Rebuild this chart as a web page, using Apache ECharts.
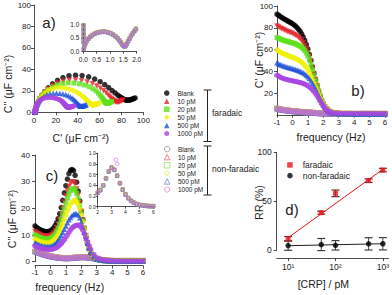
<!DOCTYPE html>
<html>
<head>
<meta charset="utf-8">
<script src="https://cdn.jsdelivr.net/npm/echarts@6/dist/echarts.min.js"></script>
<style>
html,body{margin:0;padding:0;background:#ffffff;}
#chart{width:392px;height:295px;}
</style>
</head>
<body>
<div id="chart"></div>
<script>
// ================= DATA =================
const concentrations = ['Blank', '10 pM', '20 pM', '50 pM', '500 pM', '1000 pM'];

// log10 of frequency (Hz) for panels b and c
const logFreq = [-1.0,-0.9,-0.8,-0.7,-0.6,-0.5,-0.4,-0.3,-0.2,-0.1,0.0,0.1,0.2,0.3,0.4,0.5,0.6,0.7,0.8,0.9,1.0,1.1,1.2,1.3,1.4,1.5,1.6,1.7,1.8,1.9,2.0,2.1,2.2,2.3,2.4,2.5,
  2.6,2.8,3.0,3.2,3.4,3.6,3.8,4.0,4.2,4.4,4.6,4.8,5.0,5.2,5.4,5.6,5.8,6.0];

// C' (uF cm-2), faradaic
const realBlank = [92.5,91.5,90.5,89.5,88.6,87.8,87.0,86.2,85.4,84.6,83.7,82.7,81.6,80.2,78.6,76.6,74.3,71.5,68.3,64.7,60.5,55.5,50.0,44.0,38.0,32.0,26.5,21.5,17.0,13.0,9.8,7.3,5.4,4.0,3.0,2.3,
  1.8,1.3,1.1,1.0,0.9,0.9,0.9,0.8,0.8,0.8,0.8,0.8,0.8,0.8,0.8,0.8,0.8,0.8];
const real10 = [81.5,80.6,79.8,79.0,78.3,77.6,77.0,76.4,75.8,75.2,74.6,73.9,73.1,72.1,71.0,69.6,68.0,66.0,63.6,60.8,57.5,53.5,48.8,43.5,38.0,32.3,26.8,21.7,17.2,13.2,10.0,7.4,5.5,4.1,3.1,2.4,
  1.8,1.3,1.1,1.0,0.9,0.9,0.9,0.8,0.8,0.8,0.8,0.8,0.8,0.8,0.8,0.8,0.8,0.8];
const real20 = [71.0,70.3,69.7,69.1,68.6,68.1,67.7,67.3,66.9,66.5,66.1,65.6,65.1,64.5,63.8,63.0,62.0,60.7,59.0,56.8,54.0,50.5,46.3,41.6,36.5,31.3,26.2,21.4,17.0,13.1,9.9,7.3,5.4,4.0,3.0,2.3,
  1.8,1.3,1.1,1.0,0.9,0.9,0.9,0.8,0.8,0.8,0.8,0.8,0.8,0.8,0.8,0.8,0.8,0.8];
const real50 = [59.5,58.6,57.8,57.0,56.3,55.6,55.0,54.4,53.9,53.4,52.9,52.3,51.7,51.0,50.2,49.3,48.2,46.9,45.3,43.4,41.2,38.6,35.7,32.5,29.1,25.6,22.1,18.6,15.2,12.1,9.4,7.1,5.3,3.9,2.9,2.2,
  1.8,1.3,1.1,1.0,0.9,0.9,0.9,0.8,0.8,0.8,0.8,0.8,0.8,0.8,0.8,0.8,0.8,0.8];
const real500 = [47.8,47.0,46.3,45.7,45.1,44.6,44.1,43.7,43.3,42.9,42.5,42.1,41.7,41.2,40.7,40.1,39.4,38.6,37.6,36.4,35.0,33.3,31.3,29.0,26.4,23.6,20.6,17.5,14.5,11.7,9.1,6.9,5.1,3.8,2.8,2.1,
  1.8,1.3,1.1,1.0,0.9,0.9,0.9,0.8,0.8,0.8,0.8,0.8,0.8,0.8,0.8,0.8,0.8,0.8];
const real1000 = [36.5,35.5,34.7,34.0,33.4,32.9,32.5,32.1,31.8,31.5,31.2,30.9,30.6,30.3,30.0,29.6,29.2,28.7,28.1,27.4,26.6,25.6,24.4,23.0,21.3,19.4,17.3,15.0,12.6,10.3,8.2,6.3,4.8,3.6,2.7,2.1,
  1.7,1.4,1.3,1.2,1.2,1.2,1.2,1.2,1.1,1.1,1.1,1.1,1.1,1.1,1.1,1.1,1.1,1.1];
// C' non-faradaic (all concentrations overlap)
const realNonFaradaic = [5.6,5.2,4.9,4.6,4.4,4.2,4.0,3.8,3.6,3.5,3.3,3.2,3.0,2.9,2.8,2.6,2.5,2.4,2.3,2.2,2.1,2.0,1.9,1.8,1.7,1.6,1.5,1.4,1.3,1.25,1.2,1.15,1.1,1.05,1.0,1.0,
  1.0,0.95,0.9,0.9,0.9,0.9,0.85,0.85,0.85,0.85,0.85,0.85,0.85,0.85,0.85,0.85,0.85,0.85];

// C'' (uF cm-2), faradaic
const imagBlank = [13.4,12.9,12.5,12.1,11.8,11.6,11.4,11.3,11.3,11.4,11.6,12.0,12.6,13.5,14.6,16.1,18.0,20.3,23.0,25.8,28.5,31.0,33.0,34.2,34.6,34.1,32.4,29.8,26.5,22.8,19.0,15.8,12.4,9.3,6.8,4.9,
  3.4,1.8,1.0,0.6,0.45,0.4,0.35,0.3,0.3,0.3,0.3,0.3,0.3,0.3,0.3,0.3,0.3,0.3];
const imag10 = [11.3,10.9,10.5,10.2,9.9,9.7,9.6,9.5,9.5,9.6,9.8,10.2,10.8,11.7,12.8,14.2,15.9,17.9,20.1,22.4,24.6,26.6,28.2,29.4,30.0,29.9,29.0,27.3,24.9,22.0,18.8,15.6,12.5,9.6,7.1,5.1,
  3.6,1.9,1.05,0.65,0.45,0.4,0.35,0.3,0.3,0.3,0.3,0.3,0.3,0.3,0.3,0.3,0.3,0.3];
const imag20 = [10.1,9.7,9.4,9.1,8.9,8.7,8.6,8.5,8.5,8.6,8.8,9.1,9.6,10.3,11.3,12.5,14.0,15.8,17.8,19.9,21.9,23.8,25.4,26.6,27.3,27.5,26.9,25.6,23.6,21.1,18.3,15.3,12.4,9.7,7.3,5.3,
  3.7,1.9,1.05,0.65,0.45,0.4,0.35,0.3,0.3,0.3,0.3,0.3,0.3,0.3,0.3,0.3,0.3,0.3];
const imag50 = [8.4,8.1,7.8,7.6,7.4,7.2,7.1,7.0,7.0,7.1,7.3,7.6,8.0,8.6,9.4,10.3,11.4,12.7,14.2,15.8,17.5,19.0,20.4,21.5,22.3,22.8,23.0,22.6,21.5,19.8,17.5,14.9,12.2,9.6,7.3,5.4,
  3.8,2.0,1.1,0.7,0.5,0.4,0.35,0.3,0.3,0.3,0.3,0.3,0.3,0.3,0.3,0.3,0.3,0.3];
const imag500 = [7.1,6.8,6.5,6.3,6.1,5.9,5.8,5.7,5.7,5.7,5.8,6.0,6.3,6.7,7.3,8.0,8.9,9.9,11.0,12.2,13.4,14.6,15.7,16.6,17.3,17.8,18.1,18.0,17.5,16.5,15.0,13.1,11.0,8.9,6.9,5.2,
  3.8,2.1,1.15,0.7,0.5,0.4,0.35,0.3,0.3,0.3,0.3,0.3,0.3,0.3,0.3,0.3,0.3,0.3];
const imag1000 = [5.9,5.6,5.4,5.2,5.0,4.9,4.8,4.7,4.6,4.6,4.6,4.7,4.8,5.0,5.3,5.7,6.2,6.8,7.5,8.3,9.2,10.1,11.0,11.9,12.6,13.1,13.5,13.7,13.8,13.5,12.8,11.8,10.5,9.0,7.5,6.0,
  4.7,2.8,1.6,1.0,0.7,0.55,0.45,0.4,0.35,0.35,0.3,0.3,0.3,0.3,0.3,0.3,0.3,0.3];
// C'' non-faradaic
const imagNonFaradaic = [3.8,3.6,3.4,3.2,3.0,2.8,2.6,2.45,2.3,2.15,2.0,1.9,1.8,1.7,1.6,1.5,1.45,1.4,1.35,1.3,1.3,1.3,1.3,1.35,1.4,1.45,1.5,1.55,1.6,1.65,1.7,1.7,1.7,1.65,1.6,1.5,
  1.4,1.2,1.0,0.8,0.6,0.5,0.4,0.35,0.3,0.3,0.3,0.3,0.3,0.3,0.3,0.3,0.3,0.3];

// inset a: non-faradaic Nyquist
const insetNyqRe = [0.01,0.01,0.01,0.01,0.01,0.02,0.04,0.08,0.13,0.19,0.26,0.34,0.43,0.52,0.62,0.72,0.82,0.92,1.02,1.11,1.20,1.28,1.35,1.41,1.46,1.51,1.55,1.59,1.63,1.68,1.73,1.79,1.85,1.91,1.97];
const insetNyqIm = [0.95,0.80,0.65,0.50,0.35,0.10,0.20,0.30,0.39,0.47,0.54,0.60,0.65,0.69,0.71,0.72,0.72,0.70,0.67,0.62,0.56,0.49,0.41,0.33,0.26,0.21,0.19,0.22,0.29,0.38,0.47,0.57,0.66,0.74,0.82];

// inset c: non-faradaic C'' vs log frequency
const insetFreq = [2.0,2.2,2.4,2.6,2.8,3.0,3.2,3.4,3.6,3.8,4.0,4.2,4.4,4.6,4.8,5.0,5.2,5.4,5.6,5.8,6.0];
const insetImag = [0.26,0.31,0.40,0.53,0.66,0.73,0.69,0.58,0.44,0.32,0.23,0.16,0.11,0.075,0.05,0.035,0.025,0.018,0.013,0.01,0.01];
const insetImagExtra1000 = [[3.3, 0.88], [3.4, 0.80]];

// panel d
const crpConc = [10, 50, 100, 500, 1000];
const rrFaradaic = [11.5, 38.2, 58.0, 71.0, 81.8];
const rrFaradaicErr = [2.3, 1.5, 3.4, 1.8, 1.8];
const rrNonFaradaic = [4.5, 5.6, 4.8, 6.3, 6.4];
const rrNonFaradaicErr = [4.8, 6.2, 4.8, 6.3, 6.3];
const fitFaradaic = [[10, 12.6], [1000, 82.6]];
const fitNonFaradaic = [[10, 4.4], [1000, 6.4]];
const logTickValues = [10, 100, 1000];
const logTickLabels = ['10\u00B9', '10\u00B2', '10\u00B3'];

// ================= STYLE =================
const FONT = 'Liberation Sans, Arial, sans-serif';
const TXT = '#222222';
const HEX = 'path://M0,-10L8.66,-5L8.66,5L0,10L-8.66,5L-8.66,-5Z';
const farReal = [realBlank, real10, real20, real50, real500, real1000];
const farImag = [imagBlank, imag10, imag20, imag50, imag500, imag1000];
const farStyle = [
  {symbol: 'circle', color: '#000000', size: 5.5, rotate: 0},
  {symbol: 'triangle', color: '#e3262c', size: 5.5, rotate: 180},
  {symbol: 'rect', color: '#5fe01c', size: 5, rotate: 0},
  {symbol: 'diamond', color: '#f0f000', size: 6.5, rotate: 0},
  {symbol: 'triangle', color: '#2152d9', size: 5.5, rotate: 0},
  {symbol: HEX, color: '#a846e2', size: 5.5, rotate: 0}
];
const nfColor = ['#777777', '#e0405a', '#7cd83a', '#e2e230', '#5a6fc8', '#d070d8'];
const NF = ' (non-faradaic)';

function axisBase(o) {
  return {
    type: o.type || 'value', gridIndex: o.grid, min: o.min, max: o.max, interval: o.interval,
    offset: o.offset || 0,
    axisLine: {show: true, onZero: false, lineStyle: {color: TXT, width: 0.8}},
    axisTick: Object.assign({show: true, inside: false, length: o.tick || 3, lineStyle: {color: TXT, width: 0.8}}, o.tickExtra || {}),
    splitLine: {show: false},
    axisLabel: Object.assign({color: TXT, fontSize: o.fs || 8, fontFamily: FONT, margin: o.margin || 4}, o.label || {})
  };
}
const fix1 = v => v.toFixed(1);

const xAxes = [
  axisBase({grid: 0, min: 0, max: 100, interval: 20, margin: 4}),
  axisBase({grid: 1, min: 0, max: 2, interval: 0.5, fs: 6.5, margin: 4, tick: 2, label: {formatter: fix1}}),
  axisBase({grid: 2, min: -1, max: 6, interval: 1, margin: 4}),
  axisBase({grid: 3, min: -1, max: 6, interval: 1, margin: 3, offset: 4}),
  axisBase({grid: 4, min: 2, max: 6, interval: 1, fs: 5, margin: 3, tick: 2}),
  axisBase({grid: 5, type: 'log', min: 5.73, max: 1315, offset: 8, margin: 4, fs: 8.5,
    tickExtra: {customValues: logTickValues},
    label: {customValues: logTickValues,
      formatter: v => {
        const idx = logTickValues.findIndex(t => Math.abs(Math.log10(t) - Math.log10(v)) < 0.01);
        return idx >= 0 ? logTickLabels[idx] : '';
      }}})
];
xAxes[5].logBase = 10;
const yAxes = [
  axisBase({grid: 0, min: 0, max: 100, interval: 20, margin: 3}),
  axisBase({grid: 1, min: 0, max: 1, interval: 0.5, fs: 6.5, margin: 4, tick: 2, label: {formatter: fix1}}),
  axisBase({grid: 2, min: 0, max: 100, interval: 20, margin: 4, label: {showMinLabel: false}}),
  axisBase({grid: 3, min: 0, max: 40, interval: 10, margin: 5}),
  axisBase({grid: 4, min: 0, max: 1, interval: 0.2, fs: 5, margin: 2, tick: 2, label: {formatter: fix1}}),
  axisBase({grid: 5, min: 0, max: 100, interval: 50, margin: 5, fs: 8.5})
];

const series = [];
function scatter(name, grid, data, st, open, z) {
  const s = {
    type: 'scatter', name: name, xAxisIndex: grid, yAxisIndex: grid, data: data,
    symbol: st.symbol, symbolSize: st.size, symbolRotate: st.rotate || 0,
    silent: true, z: z || 3
  };
  if (open) {
    s.itemStyle = {color: 'rgba(255,255,255,0)', borderColor: st.color, borderWidth: 0.8};
  } else {
    s.itemStyle = {color: st.color};
  }
  return s;
}
// non-faradaic (drawn first, underneath)
concentrations.forEach((c, i) => {
  const st = {symbol: farStyle[i].symbol, size: farStyle[i].size - 0.5, rotate: farStyle[i].rotate, color: nfColor[i]};
  series.push(scatter(c + NF, 2, logFreq.map((f, k) => [f, realNonFaradaic[k]]), st, true, 2));
  series.push(scatter(c + NF, 3, logFreq.map((f, k) => [f, imagNonFaradaic[k]]), st, true, 2));
  const sti = {symbol: st.symbol, size: 3.6, rotate: st.rotate, color: nfColor[i]};
  series.push(scatter(c + NF, 1, insetNyqRe.map((r, k) => [r, insetNyqIm[k]]), sti, true, 2));
  let cData = insetFreq.map((f, k) => [f, insetImag[k]]);
  if (i === 5) cData = cData.concat(insetImagExtra1000);
  series.push(scatter(c + NF, 4, cData, sti, true, 2));
});
// faradaic
concentrations.forEach((c, i) => {
  series.push(scatter(c, 0, logFreq.map((f, k) => [farReal[i][k], farImag[i][k]]), farStyle[i], false, 3));
  series.push(scatter(c, 2, logFreq.map((f, k) => [f, farReal[i][k]]), farStyle[i], false, 3));
  series.push(scatter(c, 3, logFreq.map((f, k) => [f, farImag[i][k]]), farStyle[i], false, 3));
});

// panel d
function errorBars(vals, errs, capColor) {
  return {
    type: 'custom', xAxisIndex: 5, yAxisIndex: 5, silent: true, z: 2,
    data: crpConc.map((c, i) => [c, vals[i] - errs[i], vals[i] + errs[i]]),
    encode: {x: 0, y: [1, 2]},
    renderItem: function (params, api) {
      const x = api.value(0);
      const lo = api.coord([x, api.value(1)]);
      const hi = api.coord([x, api.value(2)]);
      const w = 4;
      return {type: 'group', children: [
        {type: 'line', shape: {x1: lo[0], y1: lo[1], x2: hi[0], y2: hi[1]}, style: {stroke: '#333', lineWidth: 0.9}},
        {type: 'line', shape: {x1: lo[0] - w, y1: lo[1], x2: lo[0] + w, y2: lo[1]}, style: {stroke: capColor, lineWidth: 1.2}},
        {type: 'line', shape: {x1: hi[0] - w, y1: hi[1], x2: hi[0] + w, y2: hi[1]}, style: {stroke: capColor, lineWidth: 1.2}}
      ]};
    }
  };
}
series.push(errorBars(rrFaradaic, rrFaradaicErr, '#6a2a2a'));
series.push(errorBars(rrNonFaradaic, rrNonFaradaicErr, '#4a3a3a'));
series.push({type: 'line', xAxisIndex: 5, yAxisIndex: 5, data: fitFaradaic, symbol: 'none', silent: true, z: 2,
  lineStyle: {color: '#e8131b', width: 1}});
series.push({type: 'line', xAxisIndex: 5, yAxisIndex: 5, data: fitNonFaradaic, symbol: 'none', silent: true, z: 2,
  lineStyle: {color: '#222', width: 1}});
series.push(scatter('faradaic', 5, crpConc.map((c, i) => [c, rrFaradaic[i]]), {symbol: 'rect', size: 5, color: '#e8131b'}, false, 4));
series.push(scatter('non-faradaic', 5, crpConc.map((c, i) => [c, rrNonFaradaic[i]]), {symbol: 'circle', size: 5.5, color: '#000'}, false, 4));

function txt(x, y, text, fs, rot, align) {
  return {type: 'text', x: x, y: y, rotation: rot || 0, z: 10, silent: true,
    style: {text: text, fontSize: fs, fontFamily: FONT, fill: TXT,
      textAlign: align || 'center', textVerticalAlign: 'middle', align: align || 'center', verticalAlign: 'middle'}};
}
function ln(x1, y1, x2, y2) {
  return {type: 'line', z: 10, silent: true, shape: {x1: x1, y1: y1, x2: x2, y2: y2}, style: {stroke: '#222', lineWidth: 1}};
}
const R90 = Math.PI / 2;
const graphic = [
  txt(80.8, 137.5, "C' (\u03BCF cm\u207B\u00B2)", 10.5),
  txt(7.5, 84, "C'' (\u03BCF cm\u207B\u00B2)", 10.5, R90),
  txt(331, 136.7, 'frequency (Hz)', 10.5),
  txt(258.5, 60, "C' (\u03BCF cm\u207B\u00B2)", 10.5, R90),
  txt(11.5, 219, "C'' (\u03BCF cm\u207B\u00B2)", 10.5, R90),
  txt(69.7, 286.7, 'frequency (Hz)', 10.5),
  txt(323.3, 284, '[CRP] / pM', 10.5),
  txt(258.5, 202.5, 'RR (%)', 10.5, R90),
  txt(49, 22.5, 'a)', 15),
  txt(358, 90, 'b)', 15),
  txt(52, 175, 'c)', 15),
  txt(292, 209, 'd)', 15),
  ln(207.5, 90, 207.5, 141.5), ln(203.5, 90, 211.5, 90), ln(203.5, 141.5, 211.5, 141.5),
  ln(207.5, 146, 207.5, 195), ln(203.5, 146, 211.5, 146), ln(203.5, 195, 211.5, 195),
  txt(212, 112.7, 'faradaic', 8.5, 0, 'left'),
  txt(212, 169.3, 'non-faradaic', 8.5, 0, 'left')
];

const legendBase = {
  orient: 'vertical', selectedMode: false, padding: 0, itemGap: 0,
  itemWidth: 5.5, itemHeight: 5.5,
  textStyle: {fontSize: 6.5, lineHeight: 8.1, color: TXT, fontFamily: FONT, padding: [0, 0, 0, 3]}
};

const option = {
  animation: false,
  backgroundColor: '#ffffff',
  grid: [
    {left: 34, top: 5, width: 109.3, height: 107.3},
    {left: 83.3, top: 24, width: 53.4, height: 27.7},
    {left: 277, top: 6, width: 108, height: 108.75},
    {left: 35, top: 155, width: 108, height: 106.7},
    {left: 97.7, top: 153.3, width: 55.6, height: 53.4},
    {left: 276.7, top: 152.3, width: 113.3, height: 97.7}
  ],
  xAxis: xAxes,
  yAxis: yAxes,
  legend: [
    Object.assign({}, legendBase, {left: 164, top: 89, data: concentrations.slice()}),
    Object.assign({}, legendBase, {left: 164, top: 145, data: concentrations.map(c => c + NF),
      formatter: n => n.replace(NF, ''), itemStyle: {borderWidth: 0.8}}),
    Object.assign({}, legendBase, {left: 287.2, top: 159.6, itemWidth: 5.5, itemHeight: 5.5,
      textStyle: {fontSize: 8.5, lineHeight: 10.7, color: TXT, fontFamily: FONT, padding: [0, 0, 0, 5]},
      data: ['faradaic', 'non-faradaic']})
  ],
  graphic: graphic,
  series: series
};

const chart = echarts.init(document.getElementById('chart'), null, {renderer: 'svg', width: 392, height: 295});
chart.setOption(option);
</script>
</body>
</html>
